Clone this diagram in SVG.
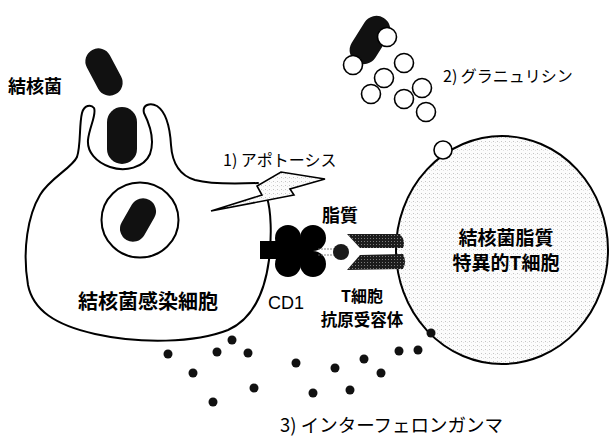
<svg xmlns="http://www.w3.org/2000/svg" width="612" height="438" viewBox="0 0 612 438">
  <defs>
    <pattern id="stipple" width="4" height="4" patternUnits="userSpaceOnUse">
      <rect width="4" height="4" fill="#fcfcfc"/>
      <rect x="1" y="1" width="1" height="1" fill="#c4c4c4"/>
      <rect x="3" y="2" width="1" height="1" fill="#e2e2e2"/>
    </pattern>
    <pattern id="darkStipple" width="3" height="3" patternUnits="userSpaceOnUse">
      <rect width="3" height="3" fill="#1c1c1c"/>
      <rect x="1" y="1" width="1" height="1" fill="#7a7a7a"/>
    </pattern>
    <style>
      .outline { fill: none; stroke: #000; stroke-width: 2; stroke-linejoin: round; stroke-linecap: round; }
      .bacillus { fill: #111; }
      .granule { fill: #fff; stroke: #000; stroke-width: 1.6; }
      .ifn { fill: #111; }
      .jp { font-family: "Noto Sans CJK JP", "Noto Sans", sans-serif; fill: #000; }
      .bold { font-weight: bold; }
      .latin { font-family: "Liberation Sans", Arial, sans-serif; fill: #000; }
    </style>
  </defs>

  <rect width="612" height="438" fill="#fff"/>

  <!-- free bacillus approaching the cell -->
  <g id="bacillus-free">
    <rect class="bacillus" x="-13" y="-25" width="26" height="50" rx="13" transform="translate(104 72) rotate(-28)"/>
    <text class="jp bold" x="8" y="93" font-size="18">結核菌</text>
  </g>

  <!-- infected macrophage with phagocytic cup and phagosome -->
  <g id="infected-cell">
    <path class="outline" d="M 258,183 C 235,184 210,184 195,180 C 178,175 172,160 171,145 C 170,128 166,112 157,106 C 150,102 142,105 144,113 C 150,125 155,140 150,154 C 144,168 125,172 110,167 C 96,162 87,152 88,140 C 89,128 97,114 94,108 C 91,104 84,105 82,113 C 79,125 81,145 77,157 C 72,168 50,178 40,195 C 28,215 22,250 28,285 C 33,310 55,325 95,334 C 140,344 195,343 228,330 C 255,318 265,290 269,260 C 272,235 271,210 267,198"/>
    <rect class="bacillus" x="107" y="107" width="30" height="57" rx="15"/>
    <ellipse class="outline" cx="140" cy="220" rx="38.5" ry="37.5"/>
    <rect class="bacillus" x="-13" y="-23" width="26" height="46" rx="13" transform="translate(138 220) rotate(30)"/>
    <text class="jp bold" x="78" y="309" font-size="20">結核菌感染細胞</text>
  </g>

  <!-- apoptosis signal -->
  <g id="apoptosis">
    <polygon points="211,211 262,195 257,186 281,172 325,179 290,189 294,195" fill="url(#stipple)" stroke="#000" stroke-width="1.6" stroke-linejoin="miter"/>
    <text class="jp" x="223" y="166" font-size="16">1) アポトーシス</text>
  </g>

  <!-- granulysin release -->
  <g id="granulysin">
    <rect class="bacillus" x="-14" y="-26" width="28" height="52" rx="14" transform="translate(370 40) rotate(32)"/>
    <circle class="granule" cx="387" cy="37" r="9.5"/>
    <circle class="granule" cx="353" cy="65" r="9.5"/>
    <circle class="granule" cx="404" cy="63" r="9.5"/>
    <circle class="granule" cx="384" cy="78" r="9.5"/>
    <circle class="granule" cx="371" cy="94" r="9.5"/>
    <circle class="granule" cx="422" cy="88" r="9.5"/>
    <circle class="granule" cx="404" cy="99" r="9.5"/>
    <circle class="granule" cx="426" cy="112" r="9.5"/>
    <text class="jp" x="443" y="82" font-size="16">2) グラニュリシン</text>
  </g>

  <!-- lipid-specific T cell -->
  <g id="t-cell">
    <ellipse cx="502" cy="250" rx="106" ry="114" fill="url(#stipple)" stroke="#000" stroke-width="2"/>
    <circle class="granule" cx="443" cy="150" r="9"/>
    <text class="jp bold" x="506" y="245" font-size="19" text-anchor="middle">結核菌脂質</text>
    <text class="jp bold" x="506" y="270" font-size="19" text-anchor="middle">特異的T細胞</text>
  </g>

  <!-- CD1 molecule -->
  <g id="cd1">
    <rect x="260" y="241" width="30" height="18" fill="#000"/>
    <rect x="286" y="238" width="27" height="26" fill="#000"/>
    <circle cx="288" cy="238" r="13" fill="#000"/>
    <circle cx="288" cy="264" r="13" fill="#000"/>
    <circle cx="313" cy="238" r="13" fill="#000"/>
    <circle cx="313" cy="264" r="13" fill="#000"/>
    <text class="latin" x="268" y="309" font-size="18">CD1</text>
  </g>

  <!-- presented lipid -->
  <g id="lipid">
    <circle cx="341" cy="252" r="8" fill="#1a1a1a"/>
    <text class="jp bold" x="322" y="222" font-size="18">脂質</text>
  </g>

  <!-- T cell antigen receptor -->
  <g id="tcr">
    <path d="M 347,234 L 400,234 Q 406,241 403,248 L 360,248 Z" fill="url(#darkStipple)"/>
    <path d="M 360,255 L 403,254 Q 407,262 403,269 L 347,270 Z" fill="url(#darkStipple)"/>
    <text class="jp bold" x="362" y="302" font-size="16" text-anchor="middle">T細胞</text>
    <text class="jp bold" x="362" y="326" font-size="16.5" text-anchor="middle">抗原受容体</text>
  </g>

  <!-- interferon-gamma -->
  <g id="ifn-gamma">
    <circle class="ifn" cx="168" cy="354" r="4.5"/>
    <circle class="ifn" cx="217" cy="352" r="4.5"/>
    <circle class="ifn" cx="232" cy="340" r="4.5"/>
    <circle class="ifn" cx="248" cy="353" r="4.5"/>
    <circle class="ifn" cx="193" cy="373" r="4.5"/>
    <circle class="ifn" cx="254" cy="388" r="4.5"/>
    <circle class="ifn" cx="213" cy="402" r="4.5"/>
    <circle class="ifn" cx="296" cy="363" r="4.5"/>
    <circle class="ifn" cx="335" cy="368" r="4.5"/>
    <circle class="ifn" cx="364" cy="359" r="4.5"/>
    <circle class="ifn" cx="381" cy="373" r="4.5"/>
    <circle class="ifn" cx="399" cy="351" r="4.5"/>
    <circle class="ifn" cx="418" cy="350" r="4.5"/>
    <circle class="ifn" cx="431" cy="333" r="4.5"/>
    <circle class="ifn" cx="313" cy="393" r="4.5"/>
    <circle class="ifn" cx="350" cy="390" r="4.5"/>
    <text class="jp" x="280" y="432" font-size="18.5">3) インターフェロンガンマ</text>
  </g>

  <!-- CD1 groove to lipid -->
  <g id="connectors">
    <line x1="318" y1="249" x2="334" y2="249" stroke="#666" stroke-width="0.8" stroke-dasharray="2 1"/>
    <line x1="318" y1="255" x2="334" y2="255" stroke="#666" stroke-width="0.8" stroke-dasharray="2 1"/>
  </g>
</svg>
